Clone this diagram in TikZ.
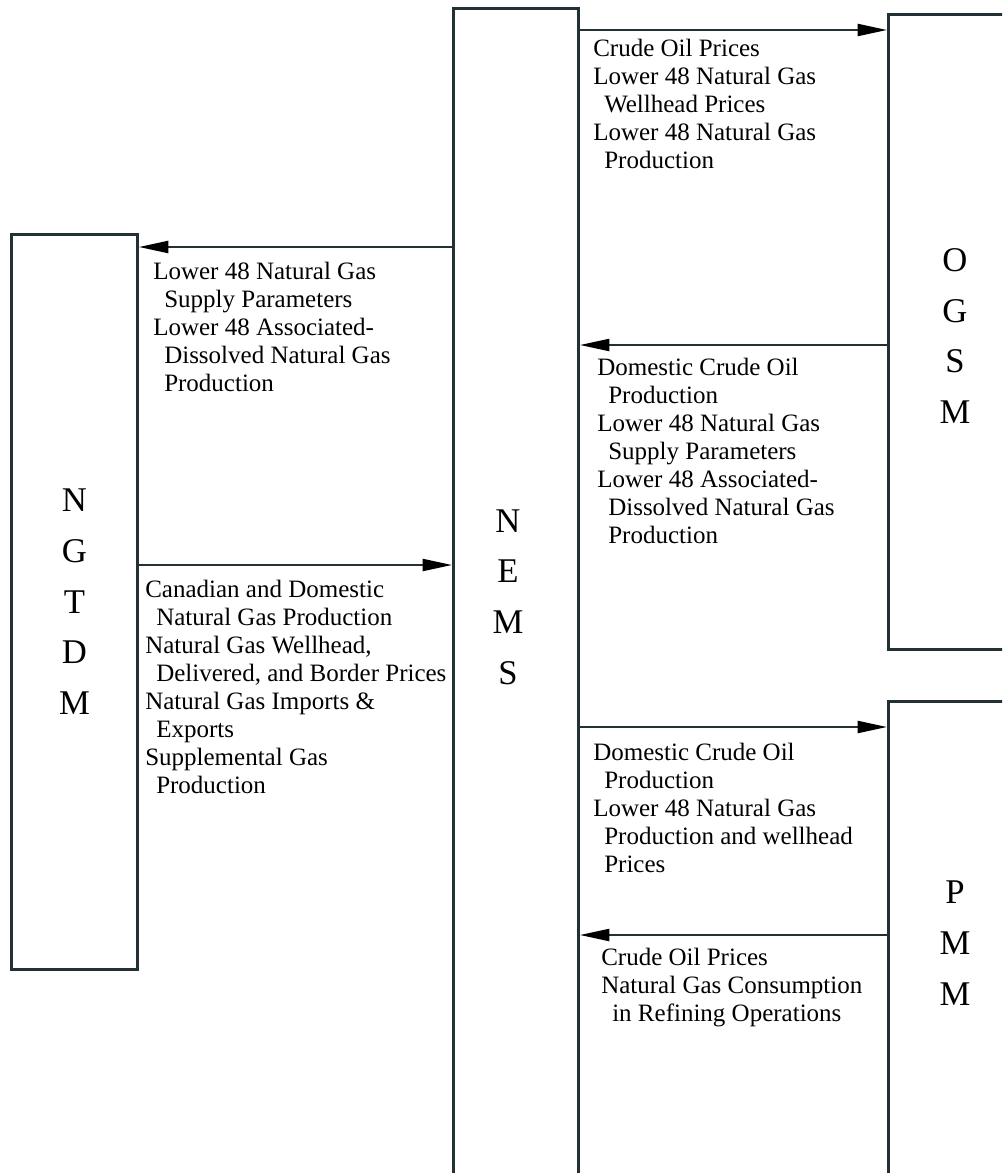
\documentclass[tikz,border=0pt]{standalone}
\usepackage{fontspec}
\setmainfont{Liberation Serif}
\usetikzlibrary{arrows.meta}
\newdimen\px \px=0.75pt
\definecolor{linecol}{RGB}{35,48,52}
\newcommand{\ind}{\hspace*{11\px}}
\tikzset{
  box/.style={draw=linecol, line width=2.2pt, fill=white, inner sep=0pt, anchor=north west,
              align=center, font=\fontsize{26pt}{38pt}\selectfont},
  flow/.style={draw=linecol, line width=1.6pt, -{Triangle[length=22pt,width=9pt,fill=black,color=black]}},
  info/.style={anchor=north west, inner sep=0pt, align=left, font=\fontsize{18.75pt}{21pt}\selectfont}
}
\begin{document}
\begin{tikzpicture}[x=0.75pt,y=-0.75pt]
\useasboundingbox (0,0) rectangle (1002,1173);
\clip (0,0) rectangle (1002,1173);
% boxes
\node[box, minimum width=126\px, minimum height=735\px] (ngtdm) at (10,233) {N\\G\\T\\D\\M};
\node[box, minimum width=125\px, minimum height=1180\px] (nems) at (452,7) {};
\node[box, minimum width=130\px, minimum height=635\px] (ogsm) at (887,13) {};
\node[box, minimum width=130\px, minimum height=490\px] (pmm) at (887,700) {};
% box letters
\node[align=center, inner sep=0pt, font=\fontsize{26pt}{38pt}\selectfont] (nemslbl) at (508,597) {N\\E\\M\\S};
\node[align=center, inner sep=0pt, font=\fontsize{26pt}{38pt}\selectfont] (ogsmlbl) at (955,336) {O\\G\\S\\M};
\node[align=center, inner sep=0pt, font=\fontsize{26pt}{38pt}\selectfont] (pmmlbl) at (955,943) {P\\M\\M};
% arrow levels
\coordinate (y1) at (0,30);
\coordinate (y2) at (0,247);
\coordinate (y3) at (0,345);
\coordinate (y4) at (0,565);
\coordinate (y5) at (0,727);
\coordinate (y6) at (0,935);
\draw[flow] (nems.east |- y1) -- (ogsm.west |- y1);
\draw[flow] (nems.west |- y2) -- (ngtdm.east |- y2);
\draw[flow] (ogsm.west |- y3) -- (nems.east |- y3);
\draw[flow] (ngtdm.east |- y4) -- (nems.west |- y4);
\draw[flow] (nems.east |- y5) -- (pmm.west |- y5);
\draw[flow] (pmm.west |- y6) -- (nems.east |- y6);
% labels
\node[info] (t1) at (593,39) {Crude Oil Prices\\Lower 48 Natural Gas\\\ind Wellhead Prices\\Lower 48 Natural Gas\\\ind Production};
\node[info] (t2) at (153,262) {Lower 48 Natural Gas\\\ind Supply Parameters\\Lower 48 Associated-\\\ind Dissolved Natural Gas\\\ind Production};
\node[info] (t3) at (597,358) {Domestic Crude Oil\\\ind Production\\Lower 48 Natural Gas\\\ind Supply Parameters\\Lower 48 Associated-\\\ind Dissolved Natural Gas\\\ind Production};
\node[info] (t4) at (145,580) {Canadian and Domestic\\\ind Natural Gas Production\\Natural Gas Wellhead,\\\ind Delivered, and Border Prices\\Natural Gas Imports \&\\\ind Exports\\Supplemental Gas\\\ind Production};
\node[info] (t5) at (593,743) {Domestic Crude Oil\\\ind Production\\Lower 48 Natural Gas\\\ind Production and wellhead\\\ind Prices};
\node[info] (t6) at (601,948) {Crude Oil Prices\\Natural Gas Consumption\\\ind in Refining Operations};
\end{tikzpicture}
\end{document}
